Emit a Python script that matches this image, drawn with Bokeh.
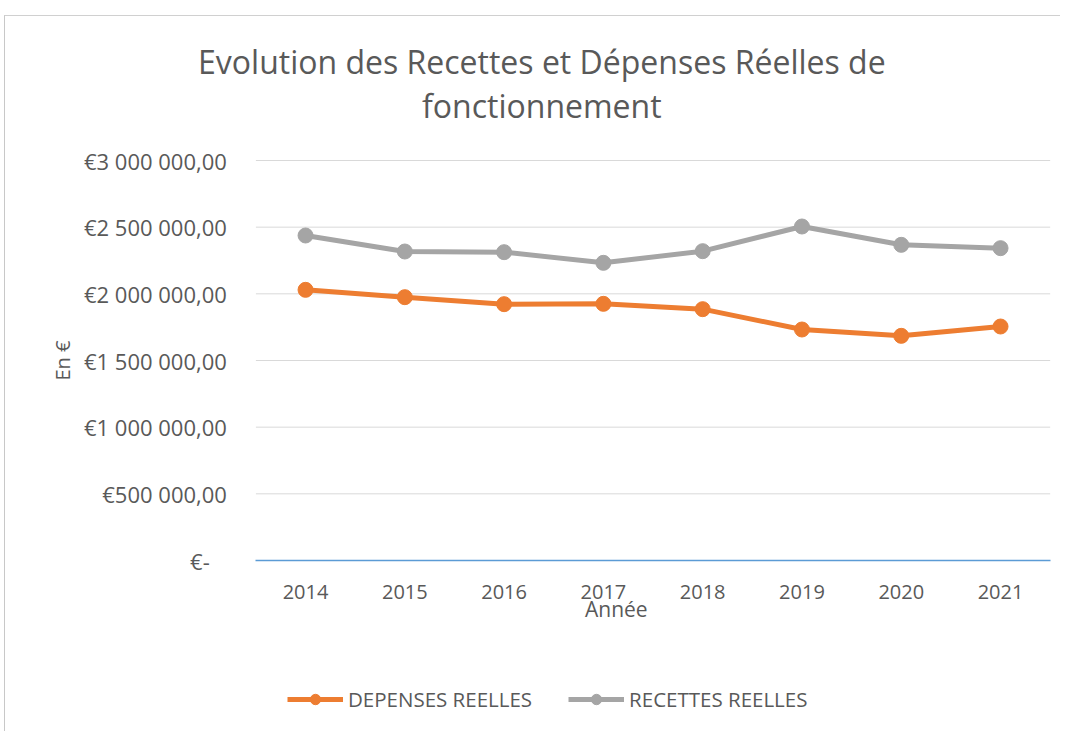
from bokeh.plotting import figure
from bokeh.models import (FixedTicker, Label, Legend, LegendItem, ColumnDataSource,
                          LinearAxis, Range1d)
from bokeh.embed import file_html
from bokeh.resources import INLINE
import math

years = [2014, 2015, 2016, 2017, 2018, 2019, 2020, 2021]
depenses = [2030000, 1975000, 1922500, 1925000, 1885000, 1732500, 1685000, 1755000]
recettes = [2437500, 2317500, 2312500, 2232500, 2320000, 2505000, 2367500, 2342500]
y_ticks = [0, 500000, 1000000, 1500000, 2000000, 2500000, 3000000]
y_tick_labels = ["€-\u00a0\u00a0\u00a0", "€500 000,00", "€1 000 000,00", "€1 500 000,00",
                 "€2 000 000,00", "€2 500 000,00", "€3 000 000,00"]
title_lines = ["Evolution des Recettes et Dépenses Réelles de", "fonctionnement"]
series_names = ["DEPENSES REELLES", "RECETTES REELLES"]
x_title = "Année"
y_title = "En €"

FONT = "Open Sans"
TXT = "#595959"
ORANGE = "#ED7D31"
GRAY = "#A5A5A5"

# the frame covers the whole canvas; ranges chosen so the plot area sits where it should
x0 = years[0] - 0.5
x1 = years[-1] + 0.5
p = figure(width=1056, height=716, output_backend="svg", toolbar_location=None,
           x_range=Range1d(2010.978, 2021.614), y_range=Range1d(-1290000, 4080000),
           x_axis_location=None, y_axis_location=None,
           min_border=0, min_border_left=0, min_border_right=0,
           min_border_top=0, min_border_bottom=0)
p.styles = {"border-top": "1px solid #d0d0d0", "border-left": "1px solid #c8c8c8",
            "margin-top": "15px", "margin-left": "4px"}
p.outline_line_color = None
p.background_fill_color = "white"
p.border_fill_color = "white"
p.xgrid.visible = False
p.ygrid.visible = False

# horizontal gridlines across the plot area
grid_src = ColumnDataSource(dict(y=y_ticks[1:], x0=[x0] * (len(y_ticks) - 1),
                                 x1=[x1] * (len(y_ticks) - 1)))
p.segment(x0="x0", x1="x1", y0="y", y1="y", source=grid_src,
          line_color="#d9d9d9", line_width=1)

src = ColumnDataSource(dict(x=years, dep=depenses, rec=recettes))
l1 = p.line("x", "dep", source=src, color=ORANGE, line_width=5)
s1 = p.scatter("x", "dep", source=src, color=ORANGE, size=15)
l2 = p.line("x", "rec", source=src, color=GRAY, line_width=5)
s2 = p.scatter("x", "rec", source=src, color=GRAY, size=15)

ya = LinearAxis(fixed_location=x0, ticker=FixedTicker(ticks=y_ticks))
ya.major_label_overrides = {t: lab for t, lab in zip(y_ticks, y_tick_labels)}
ya.axis_line_color = None
ya.major_tick_line_color = None
ya.minor_tick_line_color = None
ya.major_label_standoff = 23
ya.major_label_text_font = FONT
ya.major_label_text_font_size = "22px"
ya.major_label_text_color = TXT
p.add_layout(ya, "left")

xa = LinearAxis(fixed_location=0, bounds=(x0, x1), ticker=FixedTicker(ticks=years))
xa.major_label_overrides = {y: str(y) for y in years}
xa.axis_line_color = "#5B9BD5"
xa.axis_line_width = 1.5
xa.major_tick_line_color = None
xa.minor_tick_line_color = None
xa.major_label_standoff = 18
xa.major_label_text_font = FONT
xa.major_label_text_font_size = "20px"
xa.major_label_text_color = TXT
p.add_layout(xa, "below")

# title (two lines)
p.add_layout(Label(x=2016.38, y=3740000, text=title_lines[0], text_align="center",
                   text_baseline="middle", text_font=FONT,
                   text_font_size="32px", text_color=TXT))
p.add_layout(Label(x=2016.38, y=3412500, text=title_lines[1], text_align="center",
                   text_baseline="middle", text_font=FONT,
                   text_font_size="32px", text_color=TXT))

# axis titles
p.add_layout(Label(x=2017.13, y=-367000, text=x_title, text_align="center",
                   text_baseline="middle", text_font=FONT,
                   text_font_size="21px", text_color=TXT))
p.add_layout(Label(x=2011.552, y=1500000, text=y_title, text_align="center",
                   text_baseline="middle", angle=math.pi / 2, text_font=FONT,
                   text_font_size="20px", text_color=TXT))

legend = Legend(items=[LegendItem(label=series_names[0], renderers=[l1, s1]),
                       LegendItem(label=series_names[1], renderers=[l2, s2])],
                orientation="horizontal", location=(282, 19),
                glyph_width=56, glyph_height=26, label_standoff=5, spacing=36,
                padding=0, margin=0, border_line_color=None,
                background_fill_alpha=0,
                label_text_font=FONT, label_text_font_size="20.5px",
                label_text_color=TXT)
p.add_layout(legend)

open("out.html", "w").write(file_html(p, INLINE))
